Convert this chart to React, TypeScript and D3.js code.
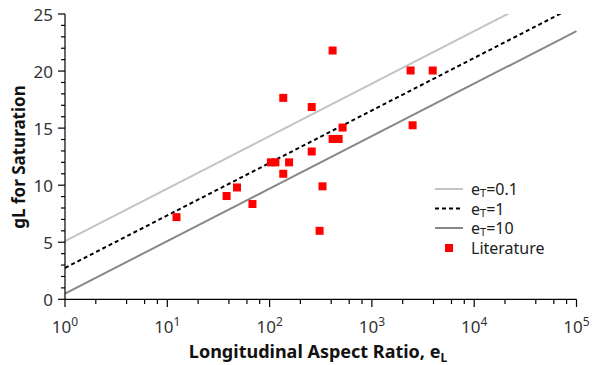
import React from "react";
import * as d3 from "d3";

const litX = [12.3, 38, 48, 68, 103, 114, 155, 136, 136, 258, 258, 329, 308, 413, 413, 473, 517, 2390, 3930, 2500];
const litY = [7.2, 9.05, 9.8, 8.35, 12.0, 12.0, 12.0, 11.0, 17.65, 16.85, 12.95, 9.9, 6.0, 21.8, 14.05, 14.05, 15.05, 20.05, 20.05, 15.25];

const lineX = [1, 100000];
const lineLight = [5.1, 28.1];
const lineDashed = [2.75, 25.75];
const lineDark = [0.5, 23.5];

const yTicks = [0, 5, 10, 15, 20, 25];
const xDecades = [0, 1, 2, 3, 4, 5];

const W = 598, H = 365;
const FONT = "'Noto Sans', 'Open Sans', sans-serif";

export default function App() {
  const x = d3.scaleLog().domain([1, 100000]).range([65, 576.5]);
  const y = d3.scaleLinear().domain([0, 25]).range([299.3, 14]);
  const line = d3.line<[number, number]>().x(d => x(d[0])).y(d => y(d[1]));
  const mk = (ys: number[]) => line(lineX.map((v, i) => [v, ys[i]] as [number, number])) || "";

  const yMinor = d3.range(0, 26, 1).filter(v => v % 5 !== 0);
  const xMinor: number[] = [];
  for (let d = 0; d < 5; d++) for (const m of [2, 4, 6, 8]) xMinor.push(m * Math.pow(10, d));

  const legend = [
    { label: "=0.1", sub: "T", color: "#c4c4c4", dash: "" },
    { label: "=1", sub: "T", color: "#000", dash: "4,3" },
    { label: "=10", sub: "T", color: "#888", dash: "" },
  ];
  const legY = [189, 208.5, 228, 248];

  return (
    <svg width={W} height={H} style={{ position: "absolute", left: 0, top: 0, fontFamily: FONT }}>
      <rect width={W} height={H} fill="#fff" />
      <defs>
        <clipPath id="plot">
          <rect x={65} y={14} width={512} height={286} />
        </clipPath>
      </defs>
      <g clipPath="url(#plot)">
        <path d={mk(lineLight)} stroke="#c4c4c4" strokeWidth={2} fill="none" />
        <path d={mk(lineDashed)} stroke="#000" strokeWidth={2} strokeDasharray="4,3" fill="none" />
        <path d={mk(lineDark)} stroke="#888" strokeWidth={2} fill="none" />
      </g>
      {litX.map((v, i) => (
        <rect key={i} x={x(v) - 4} y={y(litY[i]) - 4} width={8} height={8} fill="#ff0000" />
      ))}
      <line x1={65} x2={65} y1={14} y2={299.3} stroke="#000" strokeWidth={1.2} />
      <line x1={65} x2={576.5} y1={299.3} y2={299.3} stroke="#000" strokeWidth={1.2} />
      {yTicks.map(t => (
        <g key={t}>
          <line x1={58} x2={65} y1={y(t)} y2={y(t)} stroke="#000" strokeWidth={1.2} />
          <text x={53} y={y(t)} textAnchor="end" dominantBaseline="central" fontSize={17} fill="#333">{t}</text>
        </g>
      ))}
      {yMinor.map(t => (
        <line key={t} x1={61} x2={65} y1={y(t)} y2={y(t)} stroke="#000" strokeWidth={1.2} />
      ))}
      {xDecades.map(d => (
        <g key={d}>
          <line x1={x(Math.pow(10, d))} x2={x(Math.pow(10, d))} y1={299.3} y2={307} stroke="#000" strokeWidth={1.2} />
          <text x={x(Math.pow(10, d))} y={333} textAnchor="middle" fontSize={17} fill="#333">
            10<tspan dy={-7} fontSize={12}>{d}</tspan>
          </text>
        </g>
      ))}
      {xMinor.map((v, i) => (
        <line key={i} x1={x(v)} x2={x(v)} y1={299.3} y2={304} stroke="#000" strokeWidth={1.2} />
      ))}
      <text x={318} y={358} textAnchor="middle" fontSize={18} fontWeight="bold" fill="#111">
        Longitudinal Aspect Ratio, e<tspan dy={4} fontSize={12}>L</tspan>
      </text>
      <text transform={`translate(25,157) rotate(-90)`} textAnchor="middle" fontSize={17} fontWeight="bold" fill="#111">
        gL for Saturation
      </text>
      {legend.map((l, i) => (
        <g key={i}>
          <line x1={435} x2={463} y1={legY[i]} y2={legY[i]} stroke={l.color} strokeWidth={2} strokeDasharray={l.dash || undefined} />
          <text x={471} y={legY[i]} dominantBaseline="central" fontSize={16} fill="#222">
            e<tspan dy={3} fontSize={11}>{l.sub}</tspan><tspan dy={-3}>{l.label}</tspan>
          </text>
        </g>
      ))}
      <rect x={445} y={legY[3] - 4} width={8} height={8} fill="#ff0000" />
      <text x={471} y={legY[3]} dominantBaseline="central" fontSize={16} fill="#222">Literature</text>
    </svg>
  );
}
